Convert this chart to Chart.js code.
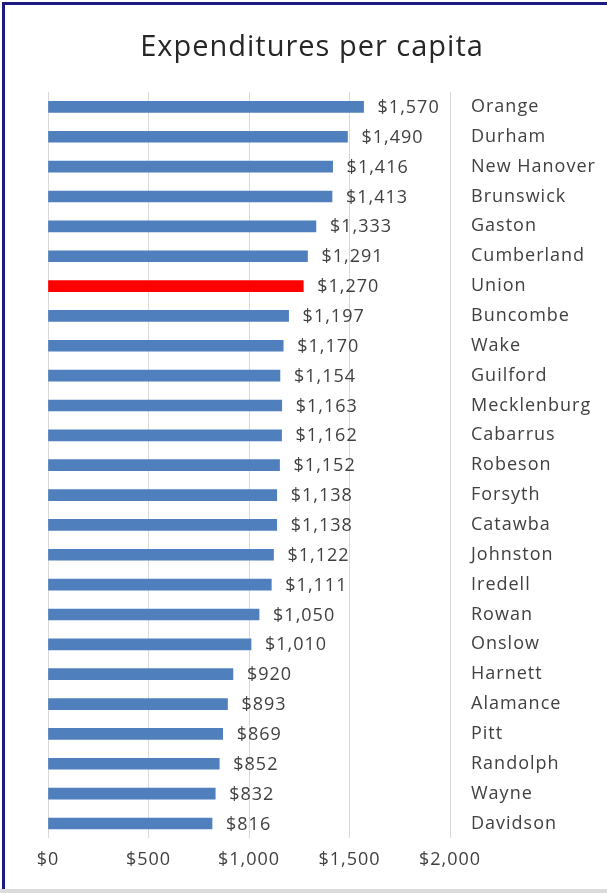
<!DOCTYPE html>
<html>
<head>
<meta charset="utf-8">
<script src="https://cdn.jsdelivr.net/npm/chart.js@4/dist/chart.umd.min.js"></script>
<style>
  html, body { margin: 0; padding: 0; background: #fff; }
  #wrap { position: relative; width: 607px; height: 893px; overflow: hidden; }
  #frame {
    position: absolute; left: 2px; top: 2px; right: -10px; bottom: 4px;
    border-top: 3px solid #1c1a82; border-left: 3px solid #1c1a82;
    pointer-events: none;
  }
  #foot { position: absolute; left: 0; right: 0; bottom: 0; height: 4px; background: #dcdcdc; }
  canvas { position: absolute; left: 0; top: 0; }
</style>
</head>
<body>
<div id="wrap">
  <canvas id="expChart" width="607" height="893"></canvas>
  <div id="frame"></div>
  <div id="foot"></div>
</div>
<script>
const chartTitle = 'Expenditures per capita';
const counties = [
  'Orange', 'Durham', 'New Hanover', 'Brunswick', 'Gaston', 'Cumberland', 'Union',
  'Buncombe', 'Wake', 'Guilford', 'Mecklenburg', 'Cabarrus', 'Robeson', 'Forsyth',
  'Catawba', 'Johnston', 'Iredell', 'Rowan', 'Onslow', 'Harnett', 'Alamance', 'Pitt',
  'Randolph', 'Wayne', 'Davidson'
];
const perCapita = [
  1570, 1490, 1416, 1413, 1333, 1291, 1270,
  1197, 1170, 1154, 1163, 1162, 1152, 1138,
  1138, 1122, 1111, 1050, 1010, 920, 893, 869,
  852, 832, 816
];
const highlighted = 'Union';
const xTicks = [0, 500, 1000, 1500, 2000];

const FONT = '"Open Sans", "DejaVu Sans", sans-serif';
const SPACING = '1px';
const money = v => '$' + v.toLocaleString('en-US');

// slightly looser text everywhere on the canvas
const textSpacing = {
  id: 'textSpacing',
  beforeUpdate(chart) { chart.ctx.letterSpacing = SPACING; },
  beforeDraw(chart) { chart.ctx.letterSpacing = SPACING; }
};

// title centred on the whole canvas, not on the inset layout box
const canvasTitle = {
  id: 'canvasTitle',
  afterDraw(chart) {
    const { ctx } = chart;
    ctx.save();
    ctx.letterSpacing = SPACING;
    ctx.font = '29px ' + FONT;
    ctx.fillStyle = '#262626';
    ctx.textAlign = 'center';
    ctx.textBaseline = 'alphabetic';
    ctx.fillText(chartTitle, 312, 56);
    ctx.restore();
  }
};

// value text just past the end of each bar
const valueLabels = {
  id: 'valueLabels',
  afterDatasetsDraw(chart) {
    const { ctx } = chart;
    const meta = chart.getDatasetMeta(0);
    ctx.save();
    ctx.letterSpacing = SPACING;
    ctx.font = '18px ' + FONT;
    ctx.fillStyle = '#404040';
    ctx.textAlign = 'left';
    ctx.textBaseline = 'middle';
    meta.data.forEach((bar, i) => {
      ctx.fillText(money(perCapita[i]), bar.x + 14, bar.y + 1);
    });
    ctx.restore();
  }
};

new Chart(document.getElementById('expChart'), {
  type: 'bar',
  data: {
    labels: counties,
    datasets: [{
      data: perCapita,
      backgroundColor: counties.map(c => c === highlighted ? '#ff0000' : '#4f7fbc'),
      barThickness: 11
    }]
  },
  options: {
    indexAxis: 'y',
    responsive: false,
    animation: false,
    layout: { padding: { left: 48, right: 0, top: 92, bottom: 11 } },
    plugins: {
      legend: { display: false },
      tooltip: { enabled: false },
      title: { display: false }
    },
    scales: {
      x: {
        min: 0,
        max: 2000,
        afterBuildTicks: scale => { scale.ticks = xTicks.map(v => ({ value: v })); },
        ticks: {
          color: '#404040',
          font: { family: FONT, size: 18 },
          padding: 11,
          maxRotation: 0,
          callback: v => money(v)
        },
        grid: { color: '#d9d9d9', drawTicks: false },
        border: { display: false }
      },
      y: {
        position: 'right',
        afterFit: scale => { scale.width = 157; },
        ticks: {
          color: '#404040',
          font: { family: FONT, size: 18 },
          padding: 21,
          crossAlign: 'near'
        },
        grid: { display: false, drawTicks: false },
        border: { display: false }
      }
    }
  },
  plugins: [textSpacing, valueLabels, canvasTitle]
});
</script>
</body>
</html>
